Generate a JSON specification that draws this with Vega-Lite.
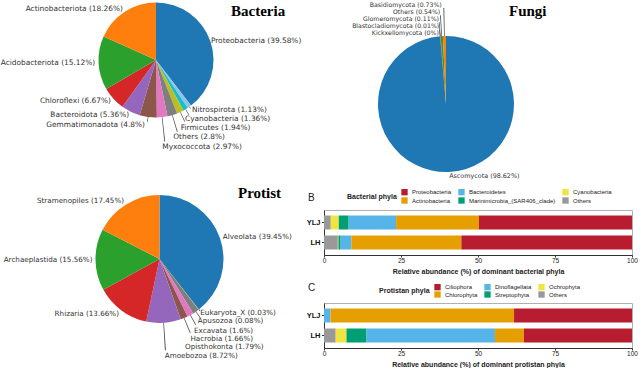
{
"$schema": "https://vega.github.io/schema/vega-lite/v6.json",
"padding": 0,
"background": "white",
"config": {
  "view": {"stroke": null},
  "font": "Liberation Sans",
  "text": {"font": "DejaVu Sans", "fontSize": 7.4, "color": "#333333", "baseline": "middle"}
},
"datasets": {
  "bac": [
    {"name": "Proteobacteria", "pct": 39.58},
    {"name": "Nitrospirota", "pct": 1.13},
    {"name": "Cyanobacteria", "pct": 1.36},
    {"name": "Firmicutes", "pct": 1.94},
    {"name": "Others", "pct": 2.8},
    {"name": "Myxococcota", "pct": 2.97},
    {"name": "Gemmatimonadota", "pct": 4.8},
    {"name": "Bacteroidota", "pct": 5.36},
    {"name": "Chloroflexi", "pct": 6.67},
    {"name": "Acidobacteriota", "pct": 15.12},
    {"name": "Actinobacteriota", "pct": 18.26}
  ],
  "fun": [
    {"name": "Ascomycota", "pct": 98.62},
    {"name": "Kickxellomycota", "pct": 0},
    {"name": "Blastocladiomycota", "pct": 0.01},
    {"name": "Glomeromycota", "pct": 0.11},
    {"name": "Others", "pct": 0.54},
    {"name": "Basidiomycota", "pct": 0.73}
  ],
  "pro": [
    {"name": "Alveolata", "pct": 39.45},
    {"name": "Eukaryota_X", "pct": 0.03},
    {"name": "Apusozoa", "pct": 0.08},
    {"name": "Excavata", "pct": 1.6},
    {"name": "Hacrobia", "pct": 1.66},
    {"name": "Opisthokonta", "pct": 1.79},
    {"name": "Amoebozoa", "pct": 8.72},
    {"name": "Rhizaria", "pct": 13.66},
    {"name": "Archaeplastida", "pct": 15.56},
    {"name": "Stramenopiles", "pct": 17.45}
  ],
  "bbar": [
    {"site": "YLJ", "phylum": "Others", "value": 2.2},
    {"site": "YLJ", "phylum": "Cyanobacteria", "value": 2.6},
    {"site": "YLJ", "phylum": "Marinimicrobia_(SAR406_clade)", "value": 3.2},
    {"site": "YLJ", "phylum": "Bacteroidetes", "value": 15.4},
    {"site": "YLJ", "phylum": "Actinobacteria", "value": 26.9},
    {"site": "YLJ", "phylum": "Proteobacteria", "value": 49.7},
    {"site": "LH", "phylum": "Others", "value": 4.5},
    {"site": "LH", "phylum": "Cyanobacteria", "value": 0.2},
    {"site": "LH", "phylum": "Marinimicrobia_(SAR406_clade)", "value": 0.7},
    {"site": "LH", "phylum": "Bacteroidetes", "value": 3.5},
    {"site": "LH", "phylum": "Actinobacteria", "value": 35.7},
    {"site": "LH", "phylum": "Proteobacteria", "value": 55.4}
  ],
  "cbar": [
    {"site": "YLJ", "phylum": "Others", "value": 0},
    {"site": "YLJ", "phylum": "Ochrophyta", "value": 0},
    {"site": "YLJ", "phylum": "Streptophyta", "value": 0},
    {"site": "YLJ", "phylum": "Dinoflagellata", "value": 2.1},
    {"site": "YLJ", "phylum": "Chlorophyta", "value": 59.6},
    {"site": "YLJ", "phylum": "Ciliophora", "value": 38.3},
    {"site": "LH", "phylum": "Others", "value": 3.8},
    {"site": "LH", "phylum": "Ochrophyta", "value": 3.5},
    {"site": "LH", "phylum": "Streptophyta", "value": 6.5},
    {"site": "LH", "phylum": "Dinoflagellata", "value": 41.7},
    {"site": "LH", "phylum": "Chlorophyta", "value": 9.4},
    {"site": "LH", "phylum": "Ciliophora", "value": 35.1}
  ]
},
"resolve": {"scale": {"color": "independent"}, "legend": {"color": "independent"}},
"columns": 2,
"align": "none",
"bounds": "flush",
"spacing": {"row": 70, "column": 5},
"concat": [
  {
    "width": 312, "height": 120,
    "data": {"name": "bac"},
    "transform": [
      {"calculate": "indexof(['Proteobacteria','Nitrospirota','Cyanobacteria','Firmicutes','Others','Myxococcota','Gemmatimonadota','Bacteroidota','Chloroflexi','Acidobacteriota','Actinobacteriota'], datum.name)", "as": "k"},
      {"calculate": "datum.name + ' (' + datum.pct + '%)'", "as": "label"},
      {"stack": "pct", "groupby": [], "sort": [{"field": "k", "order": "ascending"}], "as": ["t0", "t1"]},
      {"calculate": "(datum.t0 + datum.t1) / 2", "as": "tm"},
      {"calculate": "datum.tm - 0.09", "as": "a0"},
      {"calculate": "datum.tm + 0.09", "as": "a1"}
    ],
    "title": {"text": "Bacteria", "font": "Liberation Serif", "fontSize": 15, "fontWeight": "bold", "color": "#000000", "anchor": "start", "frame": "group", "orient": "top", "offset": 0, "baseline": "alphabetic", "dx": 231, "dy": 30.5},
    "layer": [
      {"mark": {"type": "arc", "outerRadius": 57.5},
       "encoding": {
         "theta": {"field": "t0", "type": "quantitative", "stack": null, "scale": {"domain": [0, 99.99]}},
         "theta2": {"field": "t1"},
         "color": {"field": "name", "type": "nominal", "legend": null,
         "scale": {"domain": ["Proteobacteria","Nitrospirota","Cyanobacteria","Firmicutes","Others","Myxococcota","Gemmatimonadota","Bacteroidota","Chloroflexi","Acidobacteriota","Actinobacteriota"],
                   "range": ["#1f77b4","#8fc3ea","#17becf","#bcbd22","#7f7f7f","#e377c2","#8c564b","#9467bd","#d62728","#2ca02c","#ff7f0e"]}}}},
      {"transform": [{"filter": {"field": "name", "oneOf": ["Nitrospirota"]}}],
       "mark": {"type": "arc", "innerRadius": 57.5, "outerRadius": 59.5, "color": "#555555"},
       "encoding": {"theta": {"field": "a0", "type": "quantitative", "stack": null}, "theta2": {"field": "a1"}}},
      {"transform": [{"filter": {"field": "name", "oneOf": ["Cyanobacteria"]}}],
       "mark": {"type": "arc", "innerRadius": 57.5, "outerRadius": 64, "color": "#555555"},
       "encoding": {"theta": {"field": "a0", "type": "quantitative", "stack": null}, "theta2": {"field": "a1"}}},
      {"transform": [{"filter": {"field": "name", "oneOf": ["Firmicutes"]}}],
       "mark": {"type": "arc", "innerRadius": 57.5, "outerRadius": 68, "color": "#555555"},
       "encoding": {"theta": {"field": "a0", "type": "quantitative", "stack": null}, "theta2": {"field": "a1"}}},
      {"transform": [{"filter": {"field": "name", "oneOf": ["Others"]}}],
       "mark": {"type": "arc", "innerRadius": 57.5, "outerRadius": 75, "color": "#555555"},
       "encoding": {"theta": {"field": "a0", "type": "quantitative", "stack": null}, "theta2": {"field": "a1"}}},
      {"transform": [{"filter": {"field": "name", "oneOf": ["Myxococcota"]}}],
       "mark": {"type": "arc", "innerRadius": 57.5, "outerRadius": 82, "color": "#555555"},
       "encoding": {"theta": {"field": "a0", "type": "quantitative", "stack": null}, "theta2": {"field": "a1"}}},
      {"transform": [{"filter": {"field": "name", "oneOf": ["Gemmatimonadota"]}}],
       "mark": {"type": "arc", "innerRadius": 57.5, "outerRadius": 62.5, "color": "#555555"},
       "encoding": {"theta": {"field": "a0", "type": "quantitative", "stack": null}, "theta2": {"field": "a1"}}},
      {"transform": [{"filter": {"field": "name", "oneOf": ["Actinobacteriota","Acidobacteriota","Chloroflexi","Bacteroidota"]}}],
       "mark": {"type": "text", "radius": 61, "align": "right"},
       "encoding": {"theta": {"field": "tm", "type": "quantitative", "stack": null}, "text": {"field": "label", "type": "nominal"}}},
      {"transform": [{"filter": {"field": "name", "oneOf": ["Gemmatimonadota"]}}],
       "mark": {"type": "text", "radius": 66, "align": "right", "dx": -2},
       "encoding": {"theta": {"field": "tm", "type": "quantitative", "stack": null}, "text": {"field": "label", "type": "nominal"}}},
      {"transform": [{"filter": {"field": "name", "oneOf": ["Proteobacteria"]}}],
       "mark": {"type": "text", "radius": 58, "align": "left"},
       "encoding": {"theta": {"field": "tm", "type": "quantitative", "stack": null}, "text": {"field": "label", "type": "nominal"}}},
      {"transform": [{"filter": {"field": "name", "oneOf": ["Nitrospirota"]}}],
       "mark": {"type": "text", "radius": 61, "align": "left", "dx": 0.5},
       "encoding": {"theta": {"field": "tm", "type": "quantitative", "stack": null}, "text": {"field": "label", "type": "nominal"}}},
      {"transform": [{"filter": {"field": "name", "oneOf": ["Cyanobacteria"]}}],
       "mark": {"type": "text", "radius": 69, "align": "left", "dx": -6.5},
       "encoding": {"theta": {"field": "tm", "type": "quantitative", "stack": null}, "text": {"field": "label", "type": "nominal"}}},
      {"transform": [{"filter": {"field": "name", "oneOf": ["Firmicutes"]}}],
       "mark": {"type": "text", "radius": 75, "align": "left", "dx": -7},
       "encoding": {"theta": {"field": "tm", "type": "quantitative", "stack": null}, "text": {"field": "label", "type": "nominal"}}},
      {"transform": [{"filter": {"field": "name", "oneOf": ["Others"]}}],
       "mark": {"type": "text", "radius": 80, "align": "left", "dx": -5.5},
       "encoding": {"theta": {"field": "tm", "type": "quantitative", "stack": null}, "text": {"field": "label", "type": "nominal"}}},
      {"transform": [{"filter": {"field": "name", "oneOf": ["Myxococcota"]}}],
       "mark": {"type": "text", "radius": 87, "align": "left", "dx": -3},
       "encoding": {"theta": {"field": "tm", "type": "quantitative", "stack": null}, "text": {"field": "label", "type": "nominal"}}}
    ]
  },
  {
    "width": 244, "height": 104,
    "data": {"name": "fun"},
    "transform": [
      {"calculate": "indexof(['Ascomycota','Kickxellomycota','Blastocladiomycota','Glomeromycota','Others','Basidiomycota'], datum.name)", "as": "k"},
      {"calculate": "datum.name + ' (' + datum.pct + '%)'", "as": "label"},
      {"stack": "pct", "groupby": [], "sort": [{"field": "k", "order": "ascending"}], "as": ["t0", "t1"]},
      {"calculate": "(datum.t0 + datum.t1) / 2", "as": "tm"},
      {"calculate": "datum.tm - 0.08", "as": "a0"},
      {"calculate": "datum.tm + 0.08", "as": "a1"}
    ],
    "title": {"text": "Fungi", "font": "Liberation Serif", "fontSize": 15, "fontWeight": "bold", "color": "#000000", "anchor": "start", "frame": "group", "orient": "top", "offset": 0, "baseline": "alphabetic", "dx": 185, "dy": 30.5},
    "layer": [
      {"mark": {"type": "arc", "outerRadius": 68},
       "encoding": {
         "y": {"value": "height"},
         "theta": {"field": "t0", "type": "quantitative", "stack": null, "scale": {"domain": [0, 100.01]}},
         "theta2": {"field": "t1"},
         "color": {"field": "name", "type": "nominal", "legend": null,
         "scale": {"domain": ["Ascomycota","Kickxellomycota","Blastocladiomycota","Glomeromycota","Others","Basidiomycota"],
                   "range": ["#1f77b4","#8c564b","#9467bd","#d62728","#2ca02c","#ff7f0e"]}}}},
      {"transform": [{"filter": {"field": "name", "oneOf": ["Basidiomycota"]}}],
       "mark": {"type": "arc", "innerRadius": 68, "outerRadius": 96, "color": "#555555"},
       "encoding": {"y": {"value": "height"}, "theta": {"field": "a0", "type": "quantitative", "stack": null}, "theta2": {"field": "a1"}}},
      {"transform": [{"filter": {"field": "name", "oneOf": ["Others"]}}],
       "mark": {"type": "arc", "innerRadius": 68, "outerRadius": 89, "color": "#555555"},
       "encoding": {"y": {"value": "height"}, "theta": {"field": "a0", "type": "quantitative", "stack": null}, "theta2": {"field": "a1"}}},
      {"transform": [{"filter": {"field": "name", "oneOf": ["Glomeromycota"]}}],
       "mark": {"type": "arc", "innerRadius": 68, "outerRadius": 82, "color": "#555555"},
       "encoding": {"y": {"value": "height"}, "theta": {"field": "a0", "type": "quantitative", "stack": null}, "theta2": {"field": "a1"}}},
      {"transform": [{"filter": {"field": "name", "oneOf": ["Blastocladiomycota"]}}],
       "mark": {"type": "arc", "innerRadius": 68, "outerRadius": 75, "color": "#555555"},
       "encoding": {"y": {"value": "height"}, "theta": {"field": "a0", "type": "quantitative", "stack": null}, "theta2": {"field": "a1"}}},
      {"transform": [{"filter": {"field": "name", "oneOf": ["Basidiomycota"]}}],
       "mark": {"type": "text", "radius": 99, "align": "right", "dx": -2, "fontSize": 6.2},
       "encoding": {"y": {"value": "height"}, "theta": {"field": "tm", "type": "quantitative", "stack": null}, "text": {"field": "label", "type": "nominal"}}},
      {"transform": [{"filter": {"field": "name", "oneOf": ["Others"]}}],
       "mark": {"type": "text", "radius": 92, "align": "right", "fontSize": 6.2},
       "encoding": {"y": {"value": "height"}, "theta": {"field": "tm", "type": "quantitative", "stack": null}, "text": {"field": "label", "type": "nominal"}}},
      {"transform": [{"filter": {"field": "name", "oneOf": ["Glomeromycota"]}}],
       "mark": {"type": "text", "radius": 85, "align": "right", "fontSize": 6.2},
       "encoding": {"y": {"value": "height"}, "theta": {"field": "tm", "type": "quantitative", "stack": null}, "text": {"field": "label", "type": "nominal"}}},
      {"transform": [{"filter": {"field": "name", "oneOf": ["Blastocladiomycota"]}}],
       "mark": {"type": "text", "radius": 78, "align": "right", "fontSize": 6.2},
       "encoding": {"y": {"value": "height"}, "theta": {"field": "tm", "type": "quantitative", "stack": null}, "text": {"field": "label", "type": "nominal"}}},
      {"transform": [{"filter": {"field": "name", "oneOf": ["Kickxellomycota"]}}],
       "mark": {"type": "text", "radius": 71, "align": "right", "dx": -1, "fontSize": 6.2},
       "encoding": {"y": {"value": "height"}, "theta": {"field": "tm", "type": "quantitative", "stack": null}, "text": {"field": "label", "type": "nominal"}}},
      {"transform": [{"filter": {"field": "name", "oneOf": ["Ascomycota"]}}],
       "mark": {"type": "text", "radius": 72, "align": "left", "fontSize": 6.4},
       "encoding": {"y": {"value": "height"}, "theta": {"field": "tm", "type": "quantitative", "stack": null}, "text": {"field": "label", "type": "nominal"}}}
    ]
  },
  {
    "width": 319, "height": 138,
    "data": {"name": "pro"},
    "transform": [
      {"calculate": "indexof(['Alveolata','Eukaryota_X','Apusozoa','Excavata','Hacrobia','Opisthokonta','Amoebozoa','Rhizaria','Archaeplastida','Stramenopiles'], datum.name)", "as": "k"},
      {"calculate": "datum.name + ' (' + datum.pct + '%)'", "as": "label"},
      {"stack": "pct", "groupby": [], "sort": [{"field": "k", "order": "ascending"}], "as": ["t0", "t1"]},
      {"calculate": "(datum.t0 + datum.t1) / 2", "as": "tm"},
      {"calculate": "datum.tm - 0.09", "as": "a0"},
      {"calculate": "datum.tm + 0.09", "as": "a1"}
    ],
    "title": {"text": "Protist", "font": "Liberation Serif", "fontSize": 15, "fontWeight": "bold", "color": "#000000", "anchor": "start", "frame": "group", "orient": "top", "offset": 0, "baseline": "alphabetic", "dx": 238, "dy": 22.5},
    "layer": [
      {"mark": {"type": "arc", "outerRadius": 64},
       "encoding": {
         "theta": {"field": "t0", "type": "quantitative", "stack": null, "scale": {"domain": [0, 100]}},
         "theta2": {"field": "t1"},
         "color": {"field": "name", "type": "nominal", "legend": null,
         "scale": {"domain": ["Alveolata","Eukaryota_X","Apusozoa","Excavata","Hacrobia","Opisthokonta","Amoebozoa","Rhizaria","Archaeplastida","Stramenopiles"],
                   "range": ["#1f77b4","#17becf","#bcbd22","#7f7f7f","#e377c2","#8c564b","#9467bd","#d62728","#2ca02c","#ff7f0e"]}}}},
      {"transform": [{"filter": {"field": "name", "oneOf": ["Eukaryota_X"]}}],
       "mark": {"type": "arc", "innerRadius": 64, "outerRadius": 66, "color": "#555555"},
       "encoding": {"theta": {"field": "a0", "type": "quantitative", "stack": null}, "theta2": {"field": "a1"}}},
      {"transform": [{"filter": {"field": "name", "oneOf": ["Excavata"]}}],
       "mark": {"type": "arc", "innerRadius": 64, "outerRadius": 71.5, "color": "#555555"},
       "encoding": {"theta": {"field": "a0", "type": "quantitative", "stack": null}, "theta2": {"field": "a1"}}},
      {"transform": [{"filter": {"field": "name", "oneOf": ["Hacrobia"]}}],
       "mark": {"type": "arc", "innerRadius": 64, "outerRadius": 75, "color": "#555555"},
       "encoding": {"theta": {"field": "a0", "type": "quantitative", "stack": null}, "theta2": {"field": "a1"}}},
      {"transform": [{"filter": {"field": "name", "oneOf": ["Opisthokonta"]}}],
       "mark": {"type": "arc", "innerRadius": 64, "outerRadius": 80, "color": "#555555"},
       "encoding": {"theta": {"field": "a0", "type": "quantitative", "stack": null}, "theta2": {"field": "a1"}}},
      {"transform": [{"filter": {"field": "name", "oneOf": ["Amoebozoa"]}}],
       "mark": {"type": "arc", "innerRadius": 64, "outerRadius": 91.5, "color": "#555555"},
       "encoding": {"theta": {"field": "a0", "type": "quantitative", "stack": null}, "theta2": {"field": "a1"}}},
      {"transform": [{"filter": {"field": "name", "oneOf": ["Stramenopiles","Rhizaria"]}}],
       "mark": {"type": "text", "radius": 68, "align": "right", "fontSize": 7.2},
       "encoding": {"theta": {"field": "tm", "type": "quantitative", "stack": null}, "text": {"field": "label", "type": "nominal"}}},
      {"transform": [{"filter": {"field": "name", "oneOf": ["Archaeplastida"]}}],
       "mark": {"type": "text", "radius": 67, "align": "right", "fontSize": 7.2},
       "encoding": {"theta": {"field": "tm", "type": "quantitative", "stack": null}, "text": {"field": "label", "type": "nominal"}}},
      {"transform": [{"filter": {"field": "name", "oneOf": ["Alveolata"]}}],
       "mark": {"type": "text", "radius": 67, "align": "left", "fontSize": 7.2},
       "encoding": {"theta": {"field": "tm", "type": "quantitative", "stack": null}, "text": {"field": "label", "type": "nominal"}}},
      {"transform": [{"filter": {"field": "name", "oneOf": ["Amoebozoa"]}}],
       "mark": {"type": "text", "radius": 97, "align": "left", "dx": -1, "fontSize": 7.2},
       "encoding": {"theta": {"field": "tm", "type": "quantitative", "stack": null}, "text": {"field": "label", "type": "nominal"}}},
      {"transform": [{"filter": {"field": "name", "oneOf": ["Opisthokonta"]}}],
       "mark": {"type": "text", "radius": 95, "align": "left", "dx": -11, "fontSize": 7.2},
       "encoding": {"theta": {"field": "tm", "type": "quantitative", "stack": null}, "text": {"field": "label", "type": "nominal"}}},
      {"transform": [{"filter": {"field": "name", "oneOf": ["Hacrobia"]}}],
       "mark": {"type": "text", "radius": 91, "align": "left", "dx": -13, "fontSize": 7.2},
       "encoding": {"theta": {"field": "tm", "type": "quantitative", "stack": null}, "text": {"field": "label", "type": "nominal"}}},
      {"transform": [{"filter": {"field": "name", "oneOf": ["Excavata"]}}],
       "mark": {"type": "text", "radius": 87, "align": "left", "dx": -15, "fontSize": 7.2},
       "encoding": {"theta": {"field": "tm", "type": "quantitative", "stack": null}, "text": {"field": "label", "type": "nominal"}}},
      {"transform": [{"filter": {"field": "name", "oneOf": ["Apusozoa"]}}],
       "mark": {"type": "text", "radius": 79, "align": "left", "dx": -10, "fontSize": 7.2},
       "encoding": {"theta": {"field": "tm", "type": "quantitative", "stack": null}, "text": {"field": "label", "type": "nominal"}}},
      {"transform": [{"filter": {"field": "name", "oneOf": ["Eukaryota_X"]}}],
       "mark": {"type": "text", "radius": 68, "align": "left", "dx": -1, "fontSize": 7.2},
       "encoding": {"theta": {"field": "tm", "type": "quantitative", "stack": null}, "text": {"field": "label", "type": "nominal"}}}
    ]
  },
  {
    "vconcat": [
      {"width": 308, "height": 20, "data": {"values": []}, "mark": "point"},
      {
        "width": 308, "height": 45,
        "data": {"name": "bbar"},
        "view": {"stroke": "#b0b0b0", "strokeWidth": 1},
        "title": {"text": "B", "font": "Liberation Sans", "fontSize": 10, "fontWeight": "normal", "color": "#222222", "anchor": "start", "frame": "group", "orient": "top", "offset": 0, "baseline": "middle", "dx": -16, "dy": 19.5},
        "transform": [
          {"calculate": "indexof(['Others','Cyanobacteria','Marinimicrobia_(SAR406_clade)','Bacteroidetes','Actinobacteria','Proteobacteria'], datum.phylum)", "as": "k"}
        ],
        "mark": {"type": "bar"},
        "encoding": {
          "y": {"field": "site", "type": "nominal", "sort": ["YLJ", "LH"],
                "scale": {"paddingInner": 0.3, "paddingOuter": 0.275},
                "axis": {"title": null, "labelFontWeight": "bold", "labelFontSize": 7.5, "labelColor": "#111111", "tickSize": 2.5, "tickColor": "#333333", "domainColor": "#333333", "labelPadding": 1.5}},
          "x": {"field": "value", "type": "quantitative", "stack": "zero",
                "scale": {"domain": [0, 100], "nice": false},
                "axis": {"values": [0, 25, 50, 75, 100], "grid": false, "labelFlush": false, "tickSize": 2, "tickColor": "#333333", "domainColor": "#333333", "labelFontSize": 6.5, "labelColor": "#222222", "labelPadding": 0,
                         "title": "Relative abundance (%) of dominant bacterial phyla", "titleFontSize": 7, "titleFontWeight": "bold", "titleColor": "#222222", "titlePadding": 3.5}},
          "color": {"field": "phylum", "type": "nominal",
                    "scale": {"domain": ["Proteobacteria", "Bacteroidetes", "Cyanobacteria", "Actinobacteria", "Marinimicrobia_(SAR406_clade)", "Others"],
                              "range": ["#B71C30", "#56B4E9", "#F0E442", "#E69F00", "#009E73", "#999999"]},
                    "legend": {"orient": "none", "legendX": 23, "legendY": -21.5, "direction": "horizontal", "columns": 3,
                               "title": "Bacterial phyla", "titleOrient": "left", "titleAnchor": "middle", "titleBaseline": "middle",
                               "titleFont": "Liberation Sans", "titleFontSize": 7, "titleFontWeight": "bold", "titleColor": "#222222", "titlePadding": 4,
                               "labelFont": "Liberation Sans", "labelFontSize": 6, "labelColor": "#222222", "labelOffset": 4,
                               "symbolType": "square", "symbolSize": 40, "symbolStrokeWidth": 0, "symbolOpacity": 1,
                               "rowPadding": 1.5, "columnPadding": 6}},
          "order": {"field": "k", "type": "quantitative"}
        }
      },
      {"width": 308, "height": 48, "data": {"values": []}, "mark": "point"},
      {
        "width": 308, "height": 45,
        "data": {"name": "cbar"},
        "view": {"stroke": "#b0b0b0", "strokeWidth": 1},
        "title": {"text": "C", "font": "Liberation Sans", "fontSize": 10, "fontWeight": "normal", "color": "#222222", "anchor": "start", "frame": "group", "orient": "top", "offset": 0, "baseline": "middle", "dx": -16, "dy": 14},
        "transform": [
          {"calculate": "indexof(['Others','Ochrophyta','Streptophyta','Dinoflagellata','Chlorophyta','Ciliophora'], datum.phylum)", "as": "k"}
        ],
        "mark": {"type": "bar"},
        "encoding": {
          "y": {"field": "site", "type": "nominal", "sort": ["YLJ", "LH"],
                "scale": {"paddingInner": 0.3, "paddingOuter": 0.275},
                "axis": {"title": null, "labelFontWeight": "bold", "labelFontSize": 7.5, "labelColor": "#111111", "tickSize": 2.5, "tickColor": "#333333", "domainColor": "#333333", "labelPadding": 1.5}},
          "x": {"field": "value", "type": "quantitative", "stack": "zero",
                "scale": {"domain": [0, 100], "nice": false},
                "axis": {"values": [0, 25, 50, 75, 100], "grid": false, "labelFlush": false, "tickSize": 2, "tickColor": "#333333", "domainColor": "#333333", "labelFontSize": 6.5, "labelColor": "#222222", "labelPadding": 0,
                         "title": "Relative abundance (%) of dominant protistan phyla", "titleFontSize": 7, "titleFontWeight": "bold", "titleColor": "#222222", "titlePadding": 3.5}},
          "color": {"field": "phylum", "type": "nominal",
                    "scale": {"domain": ["Ciliophora", "Dinoflagellata", "Ochrophyta", "Chlorophyta", "Streptophyta", "Others"],
                              "range": ["#B71C30", "#56B4E9", "#F0E442", "#E69F00", "#009E73", "#999999"]},
                    "legend": {"orient": "none", "legendX": 55, "legendY": -19.5, "direction": "horizontal", "columns": 3,
                               "title": "Protistan phyla", "titleOrient": "left", "titleAnchor": "middle", "titleBaseline": "middle",
                               "titleFont": "Liberation Sans", "titleFontSize": 7, "titleFontWeight": "bold", "titleColor": "#222222", "titlePadding": 4,
                               "labelFont": "Liberation Sans", "labelFontSize": 6, "labelColor": "#222222", "labelOffset": 4,
                               "symbolType": "square", "symbolSize": 40, "symbolStrokeWidth": 0, "symbolOpacity": 1,
                               "rowPadding": 0.5, "columnPadding": 6}},
          "order": {"field": "k", "type": "quantitative"}
        }
      }
    ],
    "spacing": 0,
    "bounds": "flush",
    "align": "none",
    "resolve": {"scale": {"color": "independent"}, "legend": {"color": "independent"}}
  }
]
}
